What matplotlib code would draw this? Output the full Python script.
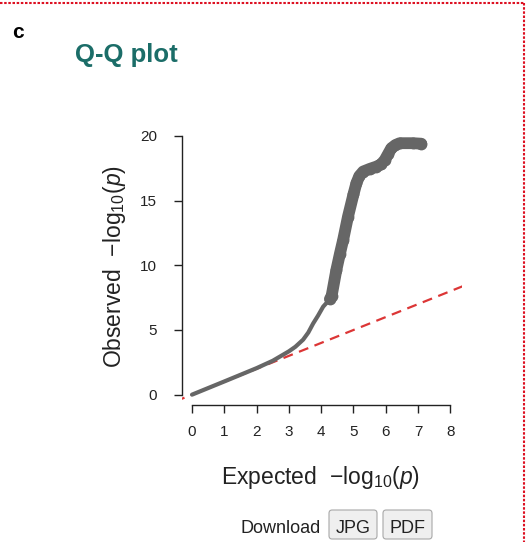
import matplotlib
matplotlib.use("Agg")
import matplotlib.pyplot as plt
from matplotlib.patches import FancyBboxPatch
from matplotlib.lines import Line2D

plt.rcParams['font.family'] = ['Liberation Sans', 'DejaVu Sans']
plt.rcParams['mathtext.fontset'] = 'custom'
plt.rcParams['mathtext.rm'] = 'Liberation Sans'
plt.rcParams['mathtext.it'] = 'Liberation Sans:italic'

# Q-Q curve: thin part (bulk of SNPs)
exp_bulk = [0.0, 1.0, 2.0, 2.5, 3.0, 3.2, 3.44, 3.6, 3.75, 3.9, 4.06, 4.15, 4.27]
obs_bulk = [0.0, 1.02, 2.05, 2.62, 3.35, 3.7, 4.25, 4.8, 5.5, 6.1, 6.8, 7.05, 7.4]

# significant tail, drawn as big points
exp_tail = [4.27, 4.32, 4.47, 4.58, 4.68, 4.83, 5.0, 5.09, 5.18, 5.3, 5.5,
            5.71, 5.85, 5.97, 6.07, 6.17, 6.3, 6.43, 6.84, 7.1]
obs_tail = [7.4, 7.6, 9.65, 10.9, 11.97, 13.77, 15.5, 16.35, 16.9, 17.25, 17.45,
            17.63, 17.8, 18.15, 18.6, 19.05, 19.3, 19.44, 19.44, 19.4]

x_ticks = [0, 1, 2, 3, 4, 5, 6, 7, 8]
y_ticks = [0, 5, 10, 15, 20]
diag = [-1, 9]

W, H = 529, 542
GREY = '#666666'
RED = '#dc3636'
TEAL = '#1b6d68'


def fx(px):
    return px / W


def fy(py):
    return 1 - py / H


fig = plt.figure(figsize=(W / 100, H / 100), dpi=100)
ax = fig.add_axes([fx(181.7), fy(405), (462 - 181.7) / W, (405 - 125.6) / H])

# reference line y = x
ax.plot(diag, diag, color=RED, lw=1.6, dashes=(4.5, 3), zorder=1)

# observed vs expected
ax.plot(exp_bulk, obs_bulk, color=GREY, lw=3, solid_capstyle='round',
        solid_joinstyle='round', zorder=2)
ax.plot(exp_tail, obs_tail, color=GREY, lw=8.5, solid_capstyle='round',
        solid_joinstyle='round', zorder=3)
ax.plot(exp_tail, obs_tail, 'o', color=GREY, ms=8.5, mew=0, zorder=3)

ax.set_xlim(-0.32, 8.36)
ax.set_ylim(-0.8, 20.8)
for s in ['top', 'right']:
    ax.spines[s].set_visible(False)
ax.spines['left'].set_bounds(0, 20)
ax.spines['bottom'].set_bounds(0, 8)
for s in ['left', 'bottom']:
    ax.spines[s].set_color('#222222')
    ax.spines[s].set_linewidth(1.0)
ax.set_xticks(x_ticks)
ax.set_yticks(y_ticks)
ax.tick_params(axis='both', length=5.8, width=1.0, color='#222222',
               labelsize=11, labelcolor='#222222')
ax.tick_params(axis='x', pad=8.5)
ax.tick_params(axis='y', pad=12)

# axis labels
fig.text(fx(321), fy(484), r'Expected  $-\log_{10}\!(p)$', ha='center',
         va='baseline', fontsize=16.5, color='#222222')
fig.text(fx(115), fy(267), r'Observed  $-\log_{10}\!(p)$', ha='center',
         va='center', rotation=90, fontsize=16.5, color='#222222')

# panel letter and title
fig.text(fx(12), fy(38), 'c', fontsize=15, fontweight='bold', va='baseline')
fig.text(fx(75), fy(62), 'Q-Q plot', fontsize=18.5, fontweight='bold',
         color=TEAL, va='baseline')

# download row
fig.text(fx(240), fy(532.7), 'Download', fontsize=13, color='#222222', va='baseline')
for x0, x1, lab in [(329, 377, 'JPG'), (383, 432, 'PDF')]:
    box = FancyBboxPatch((fx(x0), fy(539)), fx(x1 - x0), (539 - 510) / H,
                         boxstyle='round,pad=0,rounding_size=0.006',
                         transform=fig.transFigure, facecolor='#efefef',
                         edgecolor='#a8a8a8', lw=0.8)
    fig.add_artist(box)
    fig.text(fx((x0 + x1) / 2), fy(532.7), lab, ha='center', va='baseline',
             fontsize=13, color='#222222')

# red dotted frame (top and right edges visible)
fig.add_artist(Line2D([0, fx(524)], [fy(3), fy(3)], transform=fig.transFigure,
                      color='#dd1122', lw=1.5, dashes=(1.2, 0.8)))
fig.add_artist(Line2D([fx(524), fx(524)], [fy(3), 0], transform=fig.transFigure,
                      color='#dd1122', lw=1.5, dashes=(1.2, 0.8)))

fig.savefig('out.png', dpi=100)
